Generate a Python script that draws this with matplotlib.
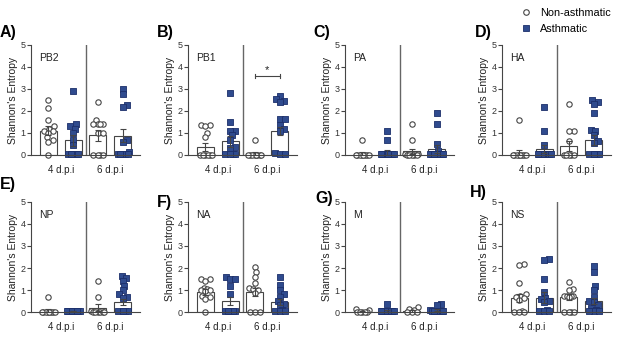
import numpy as np
import matplotlib
matplotlib.use("Agg")
import matplotlib.pyplot as plt
from matplotlib.lines import Line2D

plt.rcParams['font.family'] = ['Liberation Sans', 'DejaVu Sans']

# groups: non-asthmatic 4 dpi, asthmatic 4 dpi, non-asthmatic 6 dpi, asthmatic 6 dpi
genes = ['PB2', 'PB1', 'PA', 'HA', 'NP', 'NA', 'M', 'NS']
panel_tags = ['A)', 'B)', 'C)', 'D)', 'E)', 'F)', 'G)', 'H)']
day_labels = ['4 d.p.i', '6 d.p.i']

pb2_points = [
    [2.5, 2.15, 1.6, 1.3, 1.2, 1.1, 1.1, 1.0, 0.8, 0.7, 0.6, 0.0],
    [2.9, 1.4, 1.3, 1.2, 1.0, 0.7, 0.45, 0.05, 0.05, 0.05, 0.05, 0.05],
    [2.4, 1.6, 1.4, 1.4, 1.4, 1.4, 1.0, 1.0, 0.0, 0.0, 0.0, 0.0],
    [3.0, 2.75, 2.25, 2.2, 0.7, 0.6, 0.15, 0.05, 0.05, 0.05, 0.05, 0.05],
]
pb2_mean = [1.1, 0.68, 0.9, 0.87]
pb2_sem = [0.2, 0.25, 0.25, 0.3]

pb1_points = [
    [1.35, 1.35, 1.3, 1.0, 0.8, 0.0, 0.0, 0.0, 0.0, 0.0, 0.0],
    [2.8, 1.5, 1.1, 1.1, 0.9, 0.7, 0.35, 0.3, 0.05, 0.05, 0.05, 0.05],
    [0.7, 0.0, 0.0, 0.0, 0.0, 0.0, 0.0, 0.0, 0.0],
    [2.7, 2.55, 2.45, 2.4, 1.65, 1.65, 1.35, 1.2, 1.1, 0.1, 0.05, 0.05],
]
pb1_mean = [0.35, 0.62, 0.06, 1.1]
pb1_sem = [0.18, 0.25, 0.06, 0.18]

pa_points = [
    [0.7, 0.0, 0.0, 0.0, 0.0, 0.0, 0.0, 0.0, 0.0],
    [1.1, 0.7, 0.05, 0.05, 0.05, 0.05, 0.05, 0.05, 0.05, 0.05],
    [1.4, 0.7, 0.05, 0.05, 0.0, 0.0, 0.0, 0.0, 0.0],
    [1.9, 1.4, 0.5, 0.2, 0.05, 0.05, 0.05, 0.05, 0.05, 0.05, 0.05],
]
pa_mean = [0.06, 0.12, 0.16, 0.28]
pa_sem = [0.06, 0.1, 0.12, 0.17]

ha_points = [
    [1.6, 0.0, 0.0, 0.0, 0.0, 0.0, 0.0, 0.0, 0.0],
    [2.2, 1.1, 0.45, 0.05, 0.05, 0.05, 0.05, 0.05, 0.05, 0.05],
    [2.3, 1.1, 1.1, 0.65, 0.0, 0.0, 0.0, 0.0, 0.0],
    [2.5, 2.4, 2.3, 1.9, 1.15, 1.1, 0.9, 0.65, 0.55, 0.05, 0.05, 0.05, 0.05],
]
ha_mean = [0.1, 0.28, 0.42, 0.68]
ha_sem = [0.12, 0.18, 0.22, 0.22]

np_points = [
    [0.7, 0.0, 0.0, 0.0, 0.0, 0.0, 0.0, 0.0, 0.0],
    [0.05, 0.05, 0.05, 0.05, 0.05, 0.05, 0.05, 0.05, 0.05, 0.05],
    [1.4, 0.7, 0.05, 0.0, 0.0, 0.0, 0.0, 0.0, 0.0],
    [1.65, 1.55, 1.4, 1.2, 1.0, 0.8, 0.7, 0.65, 0.05, 0.05, 0.05, 0.05],
]
np_mean = [0.06, 0.03, 0.2, 0.45]
np_sem = [0.06, 0.0, 0.15, 0.15]

na_points = [
    [1.5, 1.5, 1.4, 1.1, 1.05, 1.0, 1.0, 0.95, 0.75, 0.7, 0.6, 0.0],
    [1.6, 1.5, 1.5, 1.2, 0.8, 0.05, 0.05, 0.05, 0.05, 0.05],
    [2.05, 1.8, 1.6, 1.3, 1.1, 1.05, 1.0, 0.85, 0.0, 0.0, 0.0],
    [1.6, 1.25, 1.0, 0.8, 0.7, 0.5, 0.35, 0.3, 0.1, 0.05, 0.05, 0.05],
]
na_mean = [0.9, 0.5, 0.92, 0.45]
na_sem = [0.13, 0.2, 0.18, 0.13]

m_points = [
    [0.15, 0.1, 0.0, 0.0, 0.0, 0.0, 0.0],
    [0.35, 0.05, 0.05, 0.05, 0.05, 0.05, 0.05, 0.05],
    [0.25, 0.15, 0.1, 0.0, 0.0, 0.0],
    [0.35, 0.3, 0.1, 0.05, 0.05, 0.05, 0.05, 0.05, 0.05],
]
m_mean = [0.03, 0.05, 0.05, 0.08]
m_sem = [0.02, 0.03, 0.03, 0.04]

ns_points = [
    [2.2, 2.15, 1.3, 0.8, 0.75, 0.7, 0.65, 0.55, 0.05, 0.0, 0.0, 0.0],
    [2.4, 2.35, 1.5, 0.9, 0.65, 0.6, 0.5, 0.45, 0.1, 0.05, 0.05, 0.05],
    [1.35, 1.05, 1.0, 0.75, 0.75, 0.75, 0.75, 0.7, 0.0, 0.0, 0.0, 0.0],
    [2.1, 1.8, 1.2, 1.0, 0.7, 0.5, 0.45, 0.3, 0.2, 0.1, 0.05, 0.05, 0.05],
]
ns_mean = [0.62, 0.65, 0.68, 0.5]
ns_sem = [0.18, 0.25, 0.12, 0.12]

all_points = [pb2_points, pb1_points, pa_points, ha_points,
              np_points, na_points, m_points, ns_points]
all_means = [pb2_mean, pb1_mean, pa_mean, ha_mean,
             np_mean, na_mean, m_mean, ns_mean]
all_sems = [pb2_sem, pb1_sem, pa_sem, ha_sem,
            np_sem, na_sem, m_sem, ns_sem]

# significance: panel index, group a, group b, bracket height
sig_marks = [(1, 2, 3, 3.6, '*')]

blue = '#2f4b8e'
blue_edge = '#1c2f6a'
grey = '#454545'

PX_X = 24.8  # pixels per group
PX_Y = 22.0  # pixels per entropy unit


def swarm_x(vals, center, d=4.6, maxoff=6.5):
    # simple beeswarm in pixel space
    vals = np.asarray(vals, dtype=float)
    xs = np.zeros(len(vals))
    placed = []
    cands = [0.0]
    for k in range(1, int(maxoff / 0.5) + 1):
        cands += [k * 0.5, -k * 0.5]
    for i in np.argsort(vals):
        yp = vals[i] * PX_Y
        best = None
        best_d = -1
        for off in cands:
            md = min([np.hypot(off - a, yp - b) for a, b in placed], default=99)
            if md >= d:
                best = off
                break
            if md > best_d:
                best_d = md
                best_off = off
        if best is None:
            best = best_off
        placed.append((best, yp))
        xs[i] = center + best / PX_X
    return xs


fig = plt.figure(figsize=(6.17, 3.4), dpi=100)

lefts = [31, 188, 345, 502]
tops = [45, 202]
ax_w = 109
ax_h = 110
tag_xy = [(0, 33), (157, 33), (313, 32), (475, 33),
          (0, 185), (157, 203), (315, 198), (470, 193)]

for k, gene in enumerate(genes):
    row, col = divmod(k, 4)
    left, top = lefts[col], tops[row]
    ax = fig.add_axes([left / 617, 1 - (top + ax_h) / 340, ax_w / 617, ax_h / 340])
    pos = np.arange(4)
    ax.bar(pos, all_means[k], width=0.69, color='white', edgecolor=grey,
           linewidth=0.8, zorder=1)
    for g in range(4):
        pts = all_points[k][g]
        xs = swarm_x(pts, pos[g])
        if g % 2 == 0:
            ax.scatter(xs, pts, s=15, marker='o', facecolor='white',
                       edgecolor=grey, linewidth=0.8, zorder=2, clip_on=False)
        else:
            ax.scatter(xs, pts, s=15, marker='s', facecolor=blue,
                       edgecolor=blue_edge, linewidth=0.6, zorder=2, clip_on=False)
    ax.errorbar(pos, all_means[k], yerr=all_sems[k], fmt='none', ecolor=grey,
                elinewidth=0.8, capsize=2.5, capthick=0.8, zorder=3)
    ax.plot([1.5, 1.5], [0, 5], color='#666666', lw=1.0, zorder=0)

    for (pi, ga, gb, h, txt) in sig_marks:
        if pi == k:
            ax.plot([ga, gb], [h, h], color=grey, lw=0.8)
            ax.plot([ga, ga], [h - 0.1, h + 0.1], color=grey, lw=0.8)
            ax.plot([gb, gb], [h - 0.1, h + 0.1], color=grey, lw=0.8)
            ax.text((ga + gb) / 2, h + 0.05, txt, ha='center', va='bottom',
                    fontsize=8, color='#222222')

    ax.set_xlim(-0.7, 3.7)
    ax.set_ylim(0, 5)
    ax.set_yticks(range(6))
    ax.set_xticks([0.5, 2.5])
    ax.set_xticklabels(day_labels)
    ax.tick_params(axis='x', length=0, pad=7, labelsize=7, colors='#222222')
    ax.tick_params(axis='y', length=3, width=0.8, pad=1, labelsize=6.5,
                   colors='#333333', color=grey)
    for s in ['top', 'right']:
        ax.spines[s].set_visible(False)
    for s in ['left', 'bottom']:
        ax.spines[s].set_color(grey)
        ax.spines[s].set_linewidth(0.8)
    ax.set_ylabel("Shannon's Entropy", fontsize=7.5, labelpad=2, color='#222222')
    ax.text(0.07, 0.88, gene, transform=ax.transAxes, fontsize=7.5,
            ha='left', va='center', color='#222222')

    tx, ty = tag_xy[k]
    fig.text(tx / 617, 1 - ty / 340, panel_tags[k],
             fontsize=11.5, fontweight='bold', ha='left', va='center')

handles = [
    Line2D([], [], marker='o', ls='none', markersize=4, markerfacecolor='white',
           markeredgecolor=grey, markeredgewidth=0.8, label='Non-asthmatic'),
    Line2D([], [], marker='s', ls='none', markersize=4, markerfacecolor=blue,
           markeredgecolor=blue_edge, markeredgewidth=0.6, label='Asthmatic'),
]
fig.legend(handles=handles, loc='upper left', bbox_to_anchor=(512 / 617, 1.0),
           frameon=False, fontsize=7.8, handlelength=1.2, handletextpad=0.7,
           labelspacing=0.55, borderaxespad=0.3)

fig.savefig('out.png', dpi=100)
